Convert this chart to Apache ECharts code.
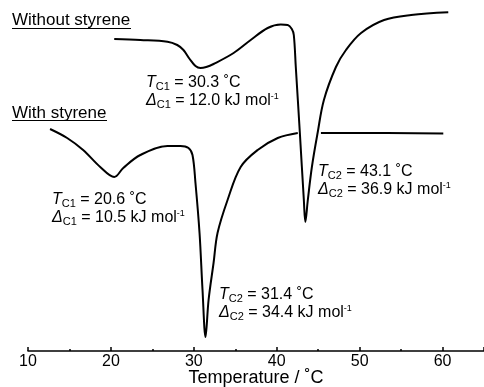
<!DOCTYPE html>
<html>
<head>
<meta charset="utf-8">
<script src="https://cdn.jsdelivr.net/npm/echarts@6/dist/echarts.min.js"></script>
<style>
html,body{margin:0;padding:0;background:#fff;}
#chart{width:484px;height:387px;}
</style>
</head>
<body>
<div id="chart"></div>
<script>
// Temperature (°C) and heat flow (arbitrary units, hidden axis)
var tempsWithout = [20.4, 23.55, 26.82, 28.0, 28.75, 29.5, 30.2, 30.8, 31.5, 32.38, 34.8, 36.86, 38.91, 40.49, 41.33, 41.82, 42.06, 42.3, 42.79, 43.27, 43.45, 43.75, 44.24, 44.93, 45.69, 47.14, 48.35, 50.17, 52.95, 56.21, 60.69];
var valuesWithout = [31.2, 31.1, 30.93, 30.6, 30.1, 29.2, 28.5, 28.3, 28.4, 28.7, 29.8, 31.1, 32.3, 32.65, 32.6, 32.2, 31.6, 28.4, 21.8, 15.1, 12.9, 15.1, 18.4, 21.8, 25.1, 28.4, 30.1, 31.8, 33.1, 33.6, 33.87];

var tempsWith = [12.66, 14.72, 16.65, 18.71, 20.4, 21.49, 23.55, 26.82, 28.39, 29.36, 29.84, 30.2, 30.69, 31.05, 31.41, 31.78, 32.38, 32.86, 34.07, 35.65, 37.7, 40.12, 42.54, 43.5, 45.33, 48.96, 60.09];
var valuesWith = [22.2, 21.3, 20.1, 18.4, 17.4, 18.3, 19.6, 20.5, 20.5, 20.3, 19.6, 16.8, 11.8, 6.1, 1.4, 5.1, 8.8, 11.8, 15.1, 18.4, 20.1, 21.3, 21.8, null, 21.8, 21.8, 21.75];

var xTickLabels = ['10', '20', '30', '40', '50', '60'];

var seriesLabels = ['Without styrene', 'With styrene'];
var annotations = [
  ['{i|T}{s|C1} = 30.3 ˚C', '{i|Δ}{s|C1} = 12.0 kJ mol{p|-1}'],
  ['{i|T}{s|C2} = 43.1 ˚C', '{i|Δ}{s|C2} = 36.9 kJ mol{p|-1}'],
  ['{i|T}{s|C1} = 20.6 ˚C', '{i|Δ}{s|C1} = 10.5 kJ mol{p|-1}'],
  ['{i|T}{s|C2} = 31.4 ˚C', '{i|Δ}{s|C2} = 34.4 kJ mol{p|-1}']
];

function pairs(xs, ys) {
  return xs.map(function (x, i) { return [x, ys[i]]; });
}

var FONT = 'Liberation Sans, Arial, sans-serif';
var rich = {
  i: { fontStyle: 'italic', fontSize: 16, fontFamily: FONT, fill: '#000', lineHeight: 18 },
  s: { fontSize: 11, fontFamily: FONT, fill: '#000', verticalAlign: 'bottom', lineHeight: 18, padding: [6, 0, 0, 0] },
  p: { fontSize: 9, fontFamily: FONT, fill: '#000', verticalAlign: 'top', lineHeight: 18 }
};

function annText(x, y, text) {
  return {
    type: 'text', left: x, top: y, silent: true,
    style: { text: text, rich: rich, fontSize: 16, fontFamily: FONT, fill: '#000', lineHeight: 18 }
  };
}

var annPos = [[146, 74], [318, 163], [52, 191], [219, 286]];
var graphics = [];
annotations.forEach(function (a, k) {
  graphics.push(annText(annPos[k][0], annPos[k][1], a[0]));
  graphics.push(annText(annPos[k][0], annPos[k][1] + 18, a[1]));
});
graphics.push({ type: 'text', left: 12, top: 12, silent: true,
  style: { text: seriesLabels[0], fontSize: 17, fontFamily: FONT, fill: '#000' } });
graphics.push({ type: 'line', silent: true, shape: { x1: 12, y1: 28.5, x2: 131, y2: 28.5 }, style: { stroke: '#000', lineWidth: 1 } });
graphics.push({ type: 'text', left: 12, top: 105, silent: true,
  style: { text: seriesLabels[1], fontSize: 17, fontFamily: FONT, fill: '#000' } });
graphics.push({ type: 'line', silent: true, shape: { x1: 12, y1: 120.5, x2: 107, y2: 120.5 }, style: { stroke: '#000', lineWidth: 1 } });

var chart = echarts.init(document.getElementById('chart'), null, { renderer: 'canvas' });
chart.setOption({
  animation: false,
  backgroundColor: '#fff',
  grid: { left: 28, right: 0, top: 0, bottom: 36, containLabel: false, outerBoundsMode: 'none' },
  xAxis: {
    type: 'value', min: 10, max: 65, interval: 10,
    name: 'Temperature / ˚C', nameLocation: 'middle', nameGap: 18, nameMoveOverlap: false,
    nameTextStyle: { fontSize: 18, fontFamily: FONT, color: '#000' },
    axisLine: { show: true, lineStyle: { color: '#000', width: 1.5 } },
    axisTick: { show: true, inside: true, length: 4, lineStyle: { color: '#000', width: 1.5 } },
    minorTick: { show: true, splitNumber: 2, length: 2, lineStyle: { color: '#000', width: 1.5 } },
    axisLabel: {
      fontSize: 16, fontFamily: FONT, color: '#000', margin: 3,
      showMaxLabel: false,
      formatter: function (v) { var s = String(v); return xTickLabels.indexOf(s) >= 0 ? s : ''; }
    },
    splitLine: { show: false }
  },
  yAxis: { type: 'value', min: 0, max: 35.1, show: false, splitLine: { show: false } },
  series: [
    { name: seriesLabels[0], type: 'line', data: pairs(tempsWithout, valuesWithout), showSymbol: false,
      smooth: 0.35, lineStyle: { color: '#000', width: 2 } },
    { name: seriesLabels[1], type: 'line', data: pairs(tempsWith, valuesWith), showSymbol: false,
      smooth: 0.35, connectNulls: false, lineStyle: { color: '#000', width: 2 } }
  ],
  graphic: graphics
});
</script>
</body>
</html>
